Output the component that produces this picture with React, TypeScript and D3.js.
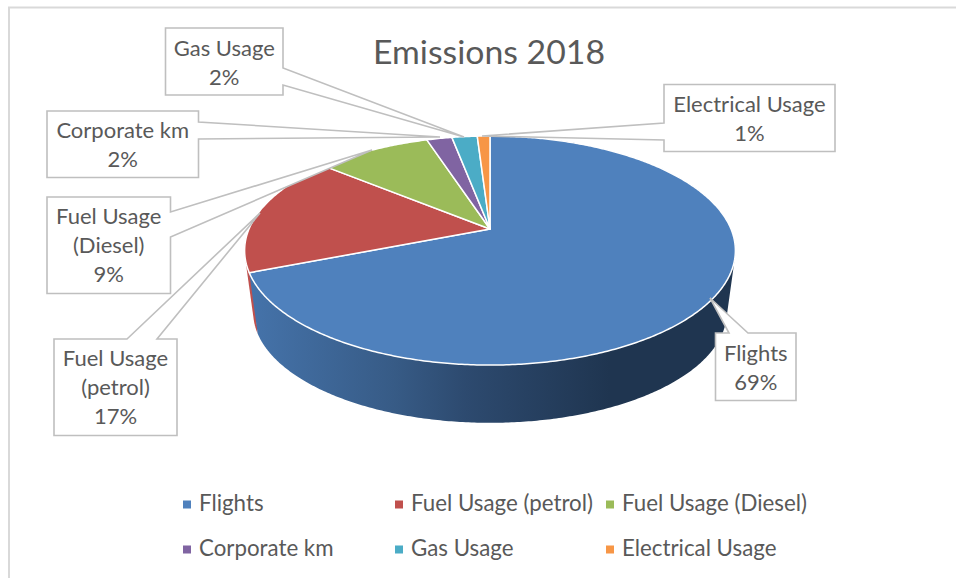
import React from "react";
import * as d3 from "d3";

const names = ["Flights", "Fuel Usage (petrol)", "Fuel Usage (Diesel)", "Corporate km", "Gas Usage", "Electrical Usage"];
const shares = [69, 17, 9, 2, 2, 1];
const colors = ["#4f81bd", "#c0504d", "#9bbb59", "#8064a2", "#4bacc6", "#f79646"];
const labelPercents = ["69%", "17%", "9%", "2%", "2%", "1%"];
const labelLines = [["Flights"], ["Fuel Usage", "(petrol)"], ["Fuel Usage", "(Diesel)"], ["Corporate km"], ["Gas Usage"], ["Electrical Usage"]];
const legendX = [183, 395, 606, 183, 395, 606];
const legendY = [504, 504, 504, 549, 549, 549];

const boxes = [
  { b: [715.5, 333, 796, 400.5], side: "top", a: [729, 748], tip: [710, 298], first: 361 },
  { b: [54, 339, 177, 435.5], side: "top", a: [127, 157], tip: [260, 213], first: 366 },
  { b: [47, 197, 170.5, 293.5], side: "right", a: [212, 237], tip: [372, 150], first: 224 },
  { b: [47, 111, 198.5, 177.5], side: "right", a: [122, 139], tip: [440, 137], first: 138 },
  { b: [165.5, 28, 283, 95], side: "right", a: [68, 85], tip: [464, 137], first: 56 },
  { b: [664, 84.5, 835, 151.5], side: "left", a: [123, 140], tip: [482, 136], first: 112 },
];

const cx = 490;
const apexY = 229;
const k = -0.188;
const R = 241;
const B = 110.5;
const depthScale = 0.965;
const lowerApexY = 291.5;

const project = (a: number, s = 1, y0 = apexY): [number, number] => {
  const px = Math.sin(a);
  const py = -Math.cos(a);
  const d = 1 + k * py;
  return [cx + (s * R * px) / d, y0 + (s * B * py) / d];
};

const pieGen = d3.pie<number>().sort(null).startAngle(0).endAngle(Math.PI * 2);
const arcs = pieGen(shares);
const lineGen = d3.line();

const arcPoints = (a0: number, a1: number, step = 0.01) => {
  const n = Math.max(2, Math.ceil((a1 - a0) / step));
  return d3.range(n + 1).map((i) => a0 + ((a1 - a0) * i) / n);
};

const sideHull = (a0: number, a1: number) => {
  const pts = arcPoints(a0, a1, 0.01);
  const all = [...pts.map((a) => project(a)), ...pts.map((a) => project(a, depthScale, lowerApexY))];
  return lineGen(d3.polygonHull(all)!)! + "Z";
};

const calloutPath = (c: (typeof boxes)[number]) => {
  const [x0, y0, x1, y1] = c.b;
  const [p, q] = c.a;
  const [tx, ty] = c.tip;
  let pts: [number, number][];
  if (c.side === "top") {
    pts = [[x0, y0], [p, y0], [tx, ty], [q, y0], [x1, y0], [x1, y1], [x0, y1]];
  } else if (c.side === "right") {
    pts = [[x0, y0], [x1, y0], [x1, p], [tx, ty], [x1, q], [x1, y1], [x0, y1]];
  } else {
    pts = [[x0, y0], [x1, y0], [x1, y1], [x0, y1], [x0, q], [tx, ty], [x0, p]];
  }
  return lineGen(pts)! + "Z";
};

const font = "Lato, 'Open Sans', sans-serif";
const textColor = "#595959";

export default function App() {
  return (
    <svg width={956} height={578} viewBox="0 0 956 578" style={{ position: "fixed", left: 0, top: 0, display: "block", background: "#fff" }}>
      <defs>
        <linearGradient id="sideGrad" gradientUnits="userSpaceOnUse" x1={250} y1={0} x2={610} y2={0}>
          <stop offset="0" stopColor="#4573aa" />
          <stop offset="0.4" stopColor="#375b86" />
          <stop offset="0.6" stopColor="#2d4a6f" />
          <stop offset="1" stopColor="#1f3550" />
        </linearGradient>
      </defs>
      <path d="M956 7.5H9V578" fill="none" stroke="#d9d9d9" strokeWidth={2} />
      <text x={489} y={64} textAnchor="middle" fontFamily={font} fontSize={32} fill={textColor} textLength={232} lengthAdjust="spacingAndGlyphs">Emissions 2018</text>

      <path d={sideHull(arcs[1].startAngle, arcs[1].startAngle + 0.3)} fill={colors[1]} />
      <path d={sideHull(arcs[0].startAngle, arcs[0].endAngle)} fill="url(#sideGrad)" />
      <g>
        {arcs.map((a, i) => {
          const pts = arcPoints(a.startAngle, a.endAngle).map((t) => project(t));
          return <path key={i} d={lineGen([[cx, apexY], ...pts])! + "Z"} fill={colors[i]} stroke="#fff" strokeWidth={1.5} strokeLinejoin="round" />;
        })}
      </g>

      {boxes.map((c, i) => (
        <g key={i}>
          <path d={calloutPath(c)} fill="#fff" stroke="#bfbfbf" strokeWidth={1.6} strokeLinejoin="miter" />
          {[...labelLines[i], labelPercents[i]].map((t, j) => (
            <text key={j} x={(c.b[0] + c.b[2]) / 2} y={c.first + j * 29} textAnchor="middle" fontFamily={font} fontSize={22} fill={textColor}>{t}</text>
          ))}
        </g>
      ))}

      {names.map((n, i) => (
        <g key={n}>
          <rect x={legendX[i]} y={legendY[i] - 3.5} width={8} height={8} fill={colors[i]} />
          <text x={legendX[i] + 16} y={legendY[i] + 7} fontFamily={font} fontSize={22.3} fill={textColor}>{n}</text>
        </g>
      ))}
    </svg>
  );
}
